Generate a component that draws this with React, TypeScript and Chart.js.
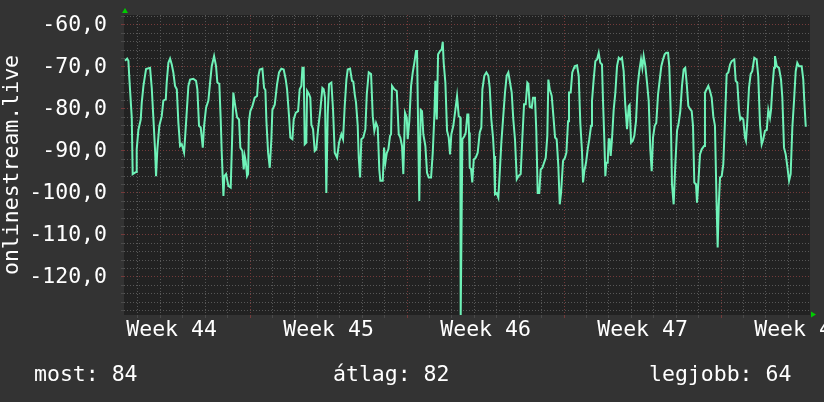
import { useEffect, useRef } from 'react';
import { Chart, registerables } from 'chart.js';

Chart.register(...registerables);

// time in hours since the start of Week 44, and the measured signal
const hours = [
  34.2, 36.5, 37.8, 38.9, 41.4, 42.4, 46.0, 46.7, 48.5, 51.0, 52.1, 53.9, 56.7, 61.0, 62.8, 64.5, 66.3, 67.4, 68.8, 70.9,
  73.5, 75.2, 77.8, 78.8, 80.6, 82.4, 84.2, 85.9, 87.7, 89.6, 91.3, 93.1, 94.9, 97.4, 99.5, 102.0, 103.8, 107.3, 110.2, 111.6,
  113.4, 115.2, 117.4, 118.8, 120.9, 123.4, 125.2, 127.0, 129.5, 131.6, 133.0, 135.1, 136.6, 137.7, 139.5, 140.5, 142.3, 144.8, 147.3, 148.7,
  150.1, 151.6, 154.1, 156.2, 157.6, 159.8, 161.2, 162.3, 163.4, 164.8, 165.9, 166.9, 168.3, 170.5, 173.0, 175.5, 176.9, 178.4, 181.2, 183.0,
  184.4, 185.5, 187.3, 189.1, 190.8, 191.9, 194.4, 196.9, 199.0, 201.5, 204.0, 206.2, 207.6, 209.7, 211.1, 213.3, 214.7, 216.9, 219.4, 221.1,
  222.9, 224.0, 225.4, 226.5, 228.2, 229.0, 231.1, 232.5, 233.6, 235.4, 237.2, 238.9, 240.8, 243.2, 245.4, 246.8, 248.2, 249.6, 251.1, 252.5,
  255.0, 256.8, 258.6, 261.1, 263.2, 265.7, 267.5, 269.3, 271.1, 272.5, 275.0, 277.1, 278.5, 280.0, 281.4, 283.2, 284.3, 285.7, 287.1, 289.2,
  291.4, 292.9, 295.0, 297.5, 299.3, 301.0, 302.8, 304.6, 306.3, 307.4, 310.0, 311.4, 312.8, 314.3, 316.0, 317.8, 318.9, 319.9, 322.4, 325.0,
  327.1, 328.8, 330.6, 332.0, 333.8, 335.7, 336.7, 338.4, 340.3, 342.1, 343.8, 345.6, 346.7, 348.1, 349.1, 350.6, 352.0, 353.4, 355.6, 357.4,
  359.2, 361.7, 363.5, 365.2, 366.3, 367.8, 369.2, 371.3, 373.1, 374.2, 375.2, 377.0, 378.8, 380.6, 382.0, 383.4, 385.5, 387.7, 389.5, 391.3,
  393.0, 393.4, 395.2, 397.3, 398.8, 400.5, 401.6, 402.3, 403.1, 404.5, 405.8, 407.4, 409.5, 411.6, 413.8, 415.5, 416.6, 418.7, 420.9, 423.0,
  424.5, 426.2, 428.0, 429.1, 430.1, 431.9, 433.7, 435.1, 436.9, 438.7, 440.8, 442.6, 444.4, 446.2, 448.0, 449.7, 451.5, 453.4, 455.1, 457.6,
  459.3, 461.2, 463.0, 464.7, 465.8, 467.3, 469.4, 470.8, 472.9, 474.3, 475.8, 477.5, 479.0, 480.8, 482.6, 484.4, 486.1, 487.2, 488.7, 490.8,
  492.6, 494.4, 496.1, 497.9, 499.4, 500.8, 502.9, 505.0, 506.5, 508.3, 509.3, 511.1, 512.8, 514.7, 515.4, 517.9, 519.7, 521.4, 523.2, 524.3,
  525.7, 527.5, 529.3, 531.0, 532.9, 533.9, 535.7, 537.5, 539.3, 541.1, 542.8, 544.6, 545.7, 547.1, 548.2, 549.2, 550.7, 551.8, 552.8, 553.9,
  555.3, 557.1, 558.9, 560.7, 562.5, 564.2, 566.0, 567.8, 569.5, 571.4, 573.2, 574.2, 575.7, 577.5, 579.2, 581.0, 582.8, 584.5, 586.4, 587.8,
  589.2, 591.0, 592.8, 594.6, 596.3, 597.8, 599.2, 601.0, 602.7, 604.6, 606.4, 608.1, 609.9, 611.7, 613.4, 615.3, 616.6, 618.1, 619.5, 621.3,
  623.0, 624.9, 626.7, 628.4, 630.2, 632.0, 633.7, 635.2, 637.0, 638.8, 640.6, 642.0, 643.4, 645.2, 646.3, 647.7, 649.5, 651.3, 653.8, 654.8,
  656.6, 658.4, 660.2, 662.0, 663.7, 665.5, 667.3, 668.4, 669.5, 670.9, 672.7, 674.4, 676.2, 678.0, 679.8, 681.6, 683.4, 686.2, 687.7, 689.4,
  691.2, 692.6, 694.1, 695.8, 697.6, 698.7, 700.1, 701.9, 703.7, 705.4, 707.6, 710.1, 711.8, 713.7, 715.5, 717.2, 719.0, 720.9, 722.6, 724.4,
  725.5, 726.9, 728.7, 729.7, 731.6, 734.0, 736.2, 737.6, 739.4, 741.2, 742.9, 744.8, 746.5, 748.3, 750.1, 751.9, 753.6, 755.4, 758.3, 760.0,
  761.1, 762.6, 763.7,
];

const signal = [
  -68.5, -68.0, -68.5, -73, -82, -95.5, -95, -89.6, -85, -82.5, -78.5, -74.5, -70.5, -70.2, -75, -82, -89.6, -96, -89.6, -84,
  -81.7, -78, -77.7, -73.7, -69, -68, -69.4, -71.3, -74.5, -75.3, -83.3, -88.8, -88.4, -90.4, -83.3, -74.5, -73, -72.8, -73.3, -75.3,
  -84, -84.4, -89.2, -84, -79.7, -78, -73.7, -69.8, -67.4, -69.8, -73.7, -74, -82.5, -90.4, -100.7, -96, -95.5, -98.3, -98.7, -88,
  -76.1, -78.5, -82, -82.5, -89.2, -90, -94.4, -91.2, -92.5, -96, -95.5, -82.9, -80.5, -79.3, -77.3, -76.9, -72.1, -70.6, -70.4, -75,
  -75.5, -82.9, -90.4, -94, -87.2, -80.2, -79, -74.1, -71.3, -70.4, -70.6, -73, -75.3, -81.7, -86.8, -87.2, -82.5, -80.9, -80.5, -75.3,
  -74.5, -70.2, -70.2, -88.4, -88, -75.7, -76.5, -77.3, -83.7, -84.8, -90, -89.6, -84.8, -80.2, -75, -75.3, -77.3, -100, -81.3, -74.1,
  -73.7, -80.2, -90.4, -91.6, -88, -86, -87.2, -79.3, -73, -70.6, -70.4, -73.3, -73.5, -76.5, -78.5, -84, -91.6, -96.3, -87.2, -86.8,
  -84.8, -76.5, -71.3, -71.7, -81.7, -85.2, -83.3, -84.4, -94.4, -97.1, -97.1, -89.2, -92.8, -90.5, -89.6, -86.4, -86, -74.5, -75.3, -75.7,
  -86, -86.8, -88.8, -95.5, -80.9, -82.1, -87.2, -82.9, -74.5, -71.3, -69, -66.2, -66.2, -88, -101.9, -80.2, -80.5, -86, -88.8, -95.2,
  -96.3, -96.3, -90.4, -81.7, -73.3, -82.5, -67, -66.2, -65.8, -64, -69, -73.7, -85.2, -86.8, -90.8, -86, -84, -80.2, -76.9, -81.7,
  -82, -129.3, -87.2, -86.5, -85.6, -81.3, -81.3, -85.6, -94, -94.3, -97.5, -92, -91.6, -90.4, -85.6, -84.4, -75.3, -72.1, -71.3, -72.1,
  -75, -82.5, -86.8, -91.2, -100.3, -100, -101.1, -95.5, -88, -82.5, -76.1, -72.1, -71.3, -73.7, -76.1, -82.5, -87.2, -96.7, -96, -95.5,
  -87.2, -78.9, -78.9, -73.7, -74, -79.5, -79.7, -77.3, -77.3, -85.2, -100, -100, -94.4, -94, -92.8, -91.6, -86.4, -73, -75.3, -76.9,
  -81.7, -86.8, -87.2, -93.6, -102.7, -100, -92.4, -91.6, -90.4, -82.9, -76.1, -76.1, -71.3, -70.2, -69.8, -69.6, -72.1, -83.3, -90, -97.5,
  -94.8, -92.8, -89.6, -87.2, -84, -78.1, -73, -68.6, -68.2, -66.6, -69, -69.4, -78.1, -87.2, -96, -92.8, -92.8, -87.2, -87.2, -91.2,
  -87.2, -80.2, -76.1, -69.8, -67.8, -68.2, -67.8, -71, -78.9, -84.8, -79.3, -79, -88, -87.6, -86.4, -82.9, -74.5, -71, -68.2, -70.2,
  -67.4, -69.8, -73.7, -78.1, -89.6, -94.8, -86.8, -84, -83.3, -76.5, -73, -69.8, -68.2, -67, -66.6, -66.6, -69.8, -80.2, -97.9, -102.7,
  -93.6, -85.2, -83.3, -80.5, -74.5, -70.6, -70.2, -73.7, -79.3, -80, -80.5, -84, -97.5, -97.9, -102.3, -97.5, -90.8, -89.6, -88.8, -76.1,
  -75.3, -74.5, -75.7, -77.3, -81.7, -84, -103.1, -113, -103.1, -96.3, -96, -93.2, -82.9, -71.7, -71.3, -69.4, -68.6, -68.2, -73.3, -73.7,
  -80.2, -82.5, -82.1, -82.5, -86.8, -87.6, -82.9, -75, -71.7, -71, -67.8, -68.2, -72.1, -83.7, -88.4, -87.2, -85.2, -85, -80.2, -82.1,
  -80.2, -75, -70.2, -67.4, -69.8, -70.2, -73, -77.3, -89.2, -90.8, -93.6, -97.1, -95.5, -84.4, -78.1, -71, -69, -69.8, -69.8, -73,
  -78.1, -84, -84,
];

const weekNumbers = [44, 45, 46, 47, 48];
const yAxisTitle = 'onlinestream.live';
const legendLabels = ['most', 'átlag', 'legjobb'];
const legendValues = [84, 82, 64];

const X_MIN = 33.1;
const X_MAX = 767.2;
const Y_MIN = -129.05;
const Y_MAX = -57.62;
const HOURS_PER_DAY = 24;
const HOURS_PER_WEEK = 168;

const FONT_FAMILY = '"DejaVu Sans Mono", monospace';
const FONT_SIZE = 21.5;
const BG = '#333333';
const PLOT_BG = '#222222';
const MINOR_GRID = '#575757';
const MAJOR_GRID = '#743a3a';
const LINE_COLOR = '#6ff2b8';
const ARROW = '#00cc00';

const isWeekLabel = (v: number) => Math.abs(v % HOURS_PER_DAY) > 1e-6;

const rrdPlugin = {
  id: 'rrdLook',
  beforeDraw(chart: any) {
    const { ctx, chartArea: a, width, height } = chart;
    ctx.save();
    ctx.fillStyle = BG;
    ctx.fillRect(0, 0, width, height);
    ctx.fillStyle = PLOT_BG;
    ctx.fillRect(a.left, a.top, a.right - a.left, a.bottom - a.top);
    ctx.restore();
  },
  afterDraw(chart: any) {
    const { ctx, chartArea: a } = chart;
    ctx.save();
    // axis arrows
    ctx.fillStyle = ARROW;
    ctx.beginPath();
    ctx.moveTo(a.left + 1, a.top - 7);
    ctx.lineTo(a.left - 2, a.top - 2);
    ctx.lineTo(a.left + 4, a.top - 2);
    ctx.closePath();
    ctx.fill();
    ctx.beginPath();
    ctx.moveTo(a.right + 6, a.bottom - 0.5);
    ctx.lineTo(a.right + 1, a.bottom - 3.5);
    ctx.lineTo(a.right + 1, a.bottom + 2.5);
    ctx.closePath();
    ctx.fill();
    // legend line
    ctx.fillStyle = '#ffffff';
    ctx.font = `${FONT_SIZE}px ${FONT_FAMILY}`;
    ctx.textBaseline = 'alphabetic';
    ctx.textAlign = 'left';
    const xs = [34, 333, 649];
    legendLabels.forEach((l, i) => {
      ctx.fillText(`${l}: ${legendValues[i]}`, xs[i], 380.5);
    });
    ctx.restore();
  },
};

export default function App() {
  const ref = useRef<HTMLCanvasElement | null>(null);

  useEffect(() => {
    if (!ref.current) return;
    const points = hours.map((h, i) => ({ x: h, y: signal[i] }));
    const tickFont = { family: FONT_FAMILY, size: FONT_SIZE };

    const chart = new Chart(ref.current, {
      type: 'line',
      data: {
        datasets: [
          {
            data: points,
            borderColor: LINE_COLOR,
            borderWidth: 2,
            pointRadius: 0,
            tension: 0,
            fill: false,
          },
        ],
      },
      options: {
        animation: false,
        responsive: false,
        devicePixelRatio: 1,
        parsing: false as any,
        layout: { padding: { top: 15, right: 14, bottom: 0, left: 0 } },
        plugins: { legend: { display: false }, tooltip: { enabled: false } },
        scales: {
          x: {
            type: 'linear',
            min: X_MIN,
            max: X_MAX,
            afterBuildTicks: (scale: any) => {
              const list: number[] = [];
              for (let h = HOURS_PER_DAY; h <= X_MAX; h += HOURS_PER_DAY) {
                if (h >= X_MIN) list.push(h);
              }
              weekNumbers.forEach((_, i) => list.push(i * HOURS_PER_WEEK + HOURS_PER_WEEK / 2));
              list.sort((p, q) => p - q);
              scale.ticks = list.map((v) => ({ value: v }));
            },
            afterFit: (scale: any) => {
              scale.height = 87;
              scale.paddingLeft = 0;
              scale.paddingRight = 0;
            },
            ticks: {
              autoSkip: false,
              maxRotation: 0,
              minRotation: 0,
              padding: 0,
              color: '#ffffff',
              font: tickFont,
              callback: (v: any) => {
                const n = Number(v);
                if (!isWeekLabel(n)) return '';
                const idx = Math.floor(n / HOURS_PER_WEEK);
                return `Week ${weekNumbers[idx]}`;
              },
            },
            grid: {
              drawTicks: true,
              tickLength: 3,
              lineWidth: 1,
              color: (c: any) => {
                const v = c.tick ? c.tick.value : 0;
                if (isWeekLabel(v)) return 'rgba(0,0,0,0)';
                return Math.abs(v % HOURS_PER_WEEK) < 1e-6 ? MAJOR_GRID : MINOR_GRID;
              },
              tickColor: (c: any) => {
                const v = c.tick ? c.tick.value : 0;
                if (isWeekLabel(v)) return 'rgba(0,0,0,0)';
                return Math.abs(v % HOURS_PER_WEEK) < 1e-6 ? MAJOR_GRID : '#4a4a4a';
              },
            },
            border: { display: false, dash: [1, 2] },
          },
          y: {
            type: 'linear',
            min: Y_MIN,
            max: Y_MAX,
            afterFit: (scale: any) => {
              scale.width = 124;
              scale.paddingTop = 0;
              scale.paddingBottom = 0;
            },
            ticks: {
              stepSize: 2,
              includeBounds: false,
              autoSkip: false,
              padding: 14,
              color: '#ffffff',
              font: tickFont,
              callback: (v: any) => {
                const r = Math.round(Number(v));
                return r % 10 === 0 ? r.toFixed(1).replace('.', ',') : '';
              },
            },
            grid: {
              drawTicks: true,
              tickLength: 3,
              lineWidth: 1,
              color: (c: any) => {
                const r = Math.round(c.tick ? c.tick.value : 0);
                return r % 10 === 0 ? MAJOR_GRID : MINOR_GRID;
              },
              tickColor: (c: any) => {
                const r = Math.round(c.tick ? c.tick.value : 0);
                return r % 10 === 0 ? MAJOR_GRID : '#4a4a4a';
              },
            },
            border: { display: false, dash: [1, 2] },
            title: {
              display: true,
              text: yAxisTitle,
              color: '#ffffff',
              font: { family: FONT_FAMILY, size: FONT_SIZE },
              padding: { top: 0, bottom: 0 },
            },
          },
        },
      } as any,
      plugins: [rrdPlugin],
    });
    return () => chart.destroy();
  }, []);

  return (
    <div style={{ position: 'absolute', left: 0, top: 0, width: 824, height: 402 }}>
      <canvas ref={ref} width={824} height={402} style={{ display: 'block', width: 824, height: 402 }} />
    </div>
  );
}
